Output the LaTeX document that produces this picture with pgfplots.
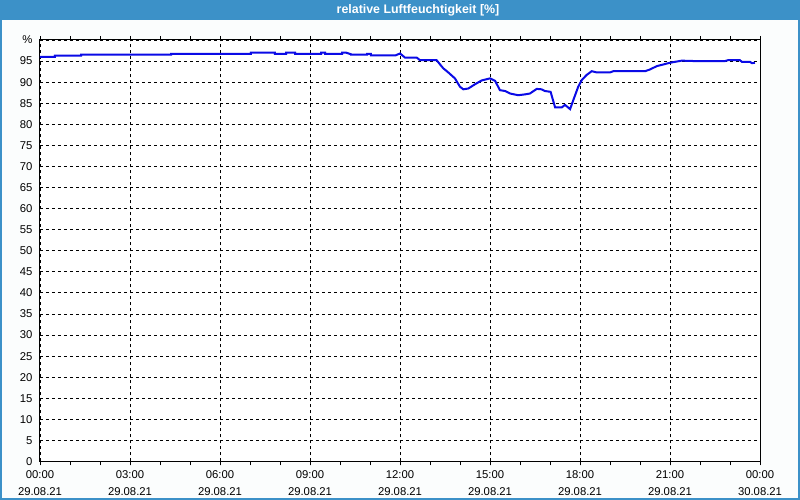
\documentclass[border=0pt]{standalone}
\usepackage{fontspec}
\setmainfont{Liberation Sans}
\usepackage{pgfplots}
\pgfplotsset{compat=1.18}
\definecolor{titlebar}{RGB}{60,145,200}
\definecolor{bgc}{RGB}{251,253,253}
\definecolor{linec}{RGB}{10,10,230}
\begin{document}
\begin{tikzpicture}[x=1pt,y=1pt]
\useasboundingbox (0,0) rectangle (800,500);
\fill[bgc] (0,0) rectangle (800,500);
\fill[titlebar] (0,480) rectangle (800,500);
\draw[titlebar, line width=2pt] (1,1) rectangle (799,499);
\node[text=white, font=\bfseries\fontsize{12.4}{14}\selectfont] at (418,490) {relative Luftfeuchtigkeit [\%]};
\begin{axis}[
  at={(40pt,38.5pt)}, anchor=south west,
  width=720pt, height=421.5pt, scale only axis,
  xmin=0, xmax=24, ymin=0, ymax=100,
  axis background/.style={fill=white},
  xtick={0,3,...,24}, minor xtick={1,2,...,23},
  ytick={0,5,...,100},
  yticklabels={0,5,10,15,20,25,30,35,40,45,50,55,60,65,70,75,80,85,90,95,\%},
  xticklabels={{00:00\\29.08.21},{03:00\\29.08.21},{06:00\\29.08.21},{09:00\\29.08.21},{12:00\\29.08.21},{15:00\\29.08.21},{18:00\\29.08.21},{21:00\\29.08.21},{00:00\\30.08.21}},
  xticklabel style={align=center, font=\fontsize{11.3}{16.5}\selectfont, yshift=-2pt},
  yticklabel style={font=\fontsize{11.3}{13}\selectfont},
  /pgf/number format/assume math mode=true,
  grid=major,
  major grid style={black, dash pattern=on 3pt off 3pt, line width=0.8pt},
  axis line style={black, line width=1pt},
  tick style={black, line width=0.8pt},
  tick align=outside,
  major tick length=4pt, minor tick length=4pt,
  major y tick style={draw=none},
]
\addplot[linec, line width=2pt] coordinates {
(0,96.0) (0.5,96.0) (0.5,96.3) (1.37,96.3) (1.37,96.5) (4.37,96.5) (4.37,96.7) (7.03,96.7) (7.03,97.0) (7.83,97.0) (7.83,96.7) (8.2,96.7) (8.2,97.0) (8.5,97.0) (8.5,96.7) (9.37,96.7) (9.37,97.0) (9.5,97.0) (9.5,96.7) (10.07,96.7) (10.07,97.0) (10.2,97.0) (10.37,96.6) (10.37,96.5) (10.9,96.5) (10.9,96.7) (11.03,96.7) (11.03,96.35) (11.85,96.35) (12.0,96.8) (12.17,95.8) (12.56,95.8) (12.67,95.2) (13.22,95.2) (13.44,93.3) (13.61,92.3) (13.83,90.9) (14.0,88.9) (14.11,88.3) (14.28,88.5) (14.5,89.5) (14.72,90.4) (15.0,90.9) (15.17,90.3) (15.33,88.1) (15.5,87.9) (15.67,87.3) (15.94,86.9) (16.17,87.1) (16.33,87.3) (16.56,88.4) (16.72,88.3) (16.83,87.9) (17.02,87.7) (17.17,84.0) (17.39,84.0) (17.5,84.6) (17.67,83.6) (17.78,85.8) (17.94,88.9) (18.06,90.5) (18.22,91.7) (18.39,92.6) (18.56,92.3) (19.0,92.3) (19.11,92.6) (20.17,92.6) (20.33,93.0) (20.56,93.8) (21.0,94.6) (21.39,95.1) (21.83,95.0) (22.83,95.0) (22.93,95.2) (23.33,95.2) (23.4,94.8) (23.67,94.8) (23.73,94.5) (23.83,94.6)
};
\end{axis}
\end{tikzpicture}
\end{document}
